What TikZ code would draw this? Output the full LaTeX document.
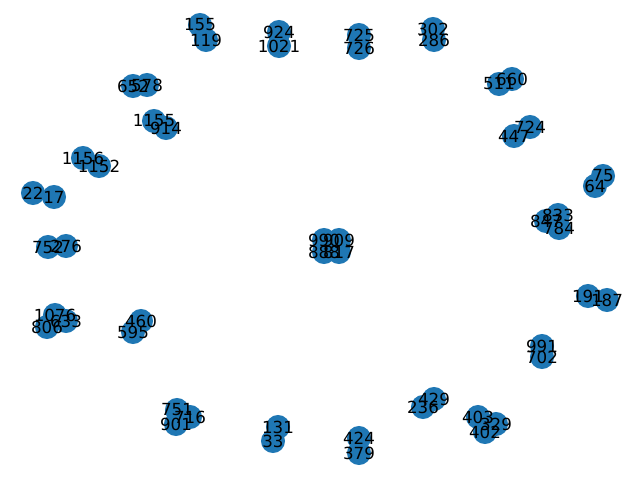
\documentclass[tikz,border=0pt]{standalone}
\usepackage{fontspec}
\setmainfont{DejaVu Sans}
\definecolor{tabblue}{HTML}{1F77B4}
\tikzset{
  dot/.style={circle,fill=tabblue,draw=none,minimum size=17.3pt,inner sep=0pt},
  lab/.style={inner sep=0pt,font=\fontsize{12pt}{14pt}\selectfont,text=black},
  edge/.style={draw=black,line width=0.72pt}
}
\begin{document}
\begin{tikzpicture}[x=0.72pt,y=-0.72pt]
\useasboundingbox (0,0) rectangle (640,480);
\foreach \n/\x/\y in {155/200/25,119/206/40,924/279/32,1021/279/46,725/359/35,726/359/48,
  302/433/29,286/434/40,660/512/79,511/499/84,652/133/86,578/147/85,1155/154/121,914/166/128,
  724/530/127,447/514/136,1156/83/158,1152/99/166,75/603/176,64/595/186,22/33/193,17/54/197,
  847/546/221,833/558/215,784/559/228,752/48/247,276/66/246,
  990/324/240,909/339/240,888/324/252,817/339/252,
  191/588/296,187/607/300,1076/55/315,806/47/327,633/66/321,460/141/321,595/133/332,
  991/542/346,702/542/357,751/177/410,716/190/417,901/176/424,429/434/399,236/423/407,
  131/278/427,33/273/441,403/478/417,329/496/424,402/485/432,424/359/438,379/359/453}
  \coordinate (n\n) at (\x,\y);
\foreach \a/\b in {155/119,924/1021,725/726,302/286,660/511,652/578,1155/914,724/447,
  1156/1152,75/64,22/17,847/833,833/784,752/276,990/909,909/817,888/817,990/888,
  191/187,1076/806,806/633,460/595,991/702,751/716,716/901,429/236,131/33,
  403/329,329/402,424/379}
  \draw[edge] (n\a) -- (n\b);
\foreach \n in {155,119,924,1021,725,726,302,286,660,511,652,578,1155,914,724,447,1156,1152,
  75,64,22,17,847,833,784,752,276,990,909,888,817,191,187,1076,806,633,460,595,991,702,
  751,716,901,429,236,131,33,403,329,402,424,379}
  \node[dot] (d\n) at (n\n) {};
\foreach \n in {155,119,924,1021,725,726,302,286,660,511,652,578,1155,914,724,447,1156,1152,
  75,64,22,17,847,833,784,752,276,990,909,888,817,191,187,1076,806,633,460,595,991,702,
  751,716,901,429,236,131,33,403,329,402,424,379}
  \node[lab] (t\n) at (n\n) {\n};
\end{tikzpicture}
\end{document}
